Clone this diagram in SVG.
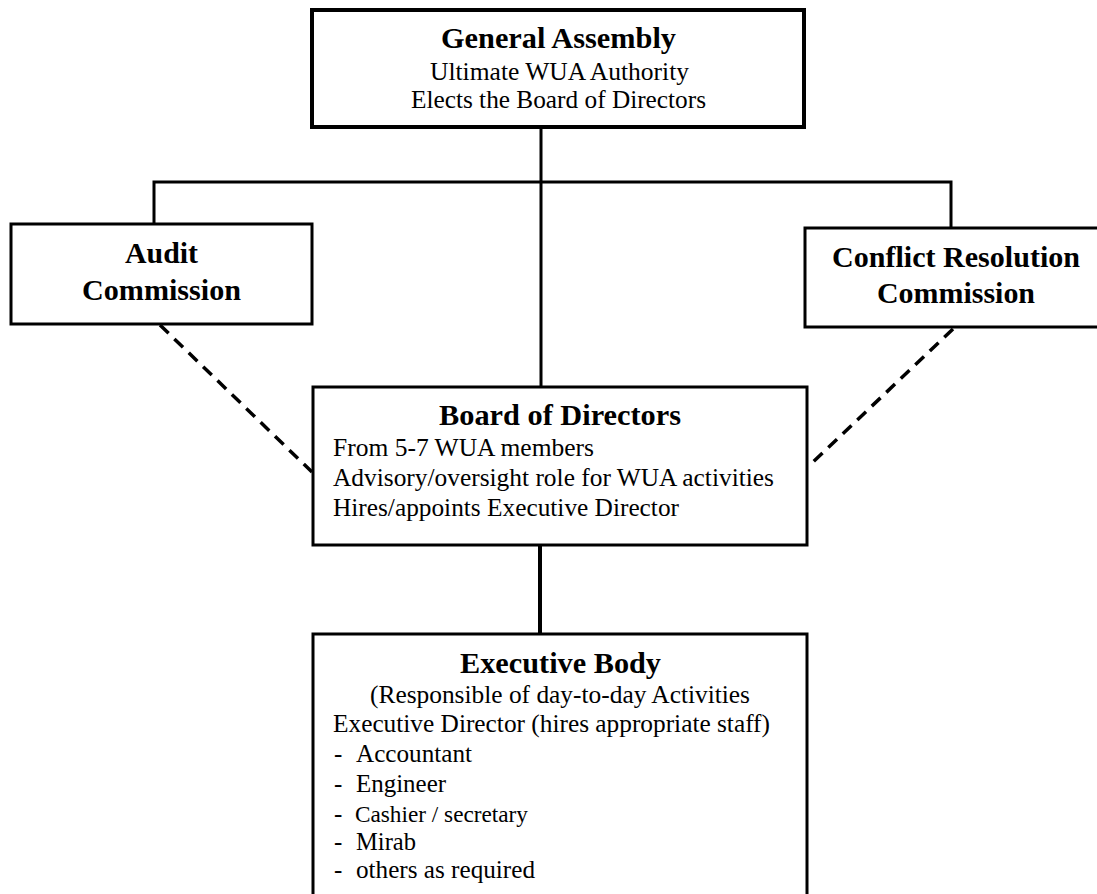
<svg xmlns="http://www.w3.org/2000/svg" width="1097" height="894" viewBox="0 0 1097 894">
<style>
.box{fill:#fff;stroke:#000;stroke-width:3}
.t{font-family:"Liberation Serif","Times New Roman",serif;fill:#000}
.h{font-weight:bold;font-size:30px}
.n{font-size:25px}
.c{text-anchor:middle}
.ln{stroke:#000;stroke-width:3;fill:none}
.dash{stroke:#000;stroke-width:3.5;fill:none;stroke-dasharray:12 8}
</style>
<rect width="1097" height="894" fill="#fff"/>
<g id="connectors">
<line class="ln" x1="541" y1="127" x2="541" y2="387"/>
<polyline class="ln" points="154,224 154,182 951,182 951,228"/>
<line class="ln" x1="540" y1="545" x2="540" y2="634" style="stroke-width:4"/>
<line class="dash" x1="160" y1="325" x2="312" y2="472"/>
<line class="dash" x1="953" y1="329" x2="813" y2="462"/>
</g>
<g id="general-assembly">
<rect class="box" x="312" y="10" width="492" height="117" style="stroke-width:4"/>
<text class="t h c" x="558.5" y="48" textLength="235" lengthAdjust="spacingAndGlyphs">General Assembly</text>
<text class="t n c" x="559.5" y="80" textLength="259" lengthAdjust="spacingAndGlyphs">Ultimate WUA Authority</text>
<text class="t n c" x="558.5" y="108" textLength="295" lengthAdjust="spacingAndGlyphs">Elects the Board of Directors</text>
</g>
<g id="audit-commission">
<rect class="box" x="11" y="224" width="301" height="100"/>
<text class="t h c" x="161.5" y="263" textLength="73" lengthAdjust="spacingAndGlyphs">Audit</text>
<text class="t h c" x="161.5" y="300" textLength="159" lengthAdjust="spacingAndGlyphs">Commission</text>
</g>
<g id="conflict-resolution-commission">
<rect class="box" x="805" y="228" width="300" height="99"/>
<text class="t h c" x="956" y="267" textLength="248" lengthAdjust="spacingAndGlyphs">Conflict Resolution</text>
<text class="t h c" x="956" y="303" textLength="158" lengthAdjust="spacingAndGlyphs">Commission</text>
</g>
<g id="board-of-directors">
<rect class="box" x="313" y="387" width="494" height="158"/>
<text class="t h c" x="560" y="425" textLength="242" lengthAdjust="spacingAndGlyphs">Board of Directors</text>
<text class="t n" x="333" y="456" textLength="261" lengthAdjust="spacingAndGlyphs">From 5-7 WUA members</text>
<text class="t n" x="333" y="486" textLength="441" lengthAdjust="spacingAndGlyphs">Advisory/oversight role for WUA activities</text>
<text class="t n" x="333" y="516" textLength="346" lengthAdjust="spacingAndGlyphs">Hires/appoints Executive Director</text>
</g>
<g id="executive-body">
<rect class="box" x="313" y="634" width="494" height="280"/>
<text class="t h c" x="560.5" y="673" textLength="201" lengthAdjust="spacingAndGlyphs">Executive Body</text>
<text class="t n" x="370" y="703" textLength="380" lengthAdjust="spacingAndGlyphs">(Responsible of day-to-day Activities</text>
<text class="t n" x="333" y="732" textLength="437" lengthAdjust="spacingAndGlyphs">Executive Director (hires appropriate staff)</text>
<text class="t n" x="334" y="762">-</text><text class="t n" x="356" y="762" textLength="116" lengthAdjust="spacingAndGlyphs">Accountant</text>
<text class="t n" x="334" y="792">-</text><text class="t n" x="356" y="792" textLength="90" lengthAdjust="spacingAndGlyphs">Engineer</text>
<text class="t n" x="334" y="822">-</text><text class="t" x="355" y="822" font-size="23" textLength="173" lengthAdjust="spacingAndGlyphs">Cashier / secretary</text>
<text class="t n" x="334" y="850">-</text><text class="t n" x="356" y="850" textLength="60" lengthAdjust="spacingAndGlyphs">Mirab</text>
<text class="t n" x="334" y="878">-</text><text class="t n" x="356" y="878" textLength="179" lengthAdjust="spacingAndGlyphs">others as required</text>
</g>
</svg>
